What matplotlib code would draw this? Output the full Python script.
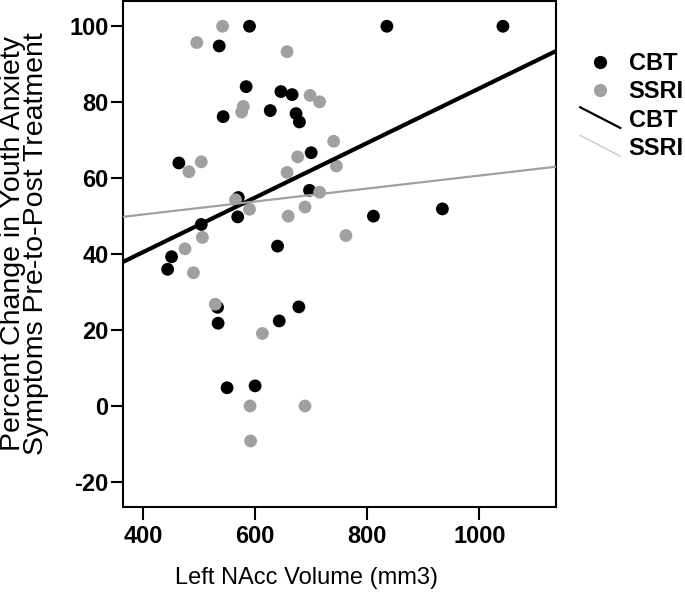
import numpy as np
import matplotlib
matplotlib.use("Agg")
import matplotlib.pyplot as plt
from matplotlib.lines import Line2D
from matplotlib.legend_handler import HandlerBase

plt.rcParams['font.family'] = ['Liberation Sans', 'DejaVu Sans']
plt.rcParams['axes.unicode_minus'] = False

# data (left NAcc volume, % change)
cbt_x = [590, 536, 584, 543, 627, 646, 666, 673, 679, 464, 570, 569, 504, 451,
         444, 640, 700, 697, 533, 534, 550, 678, 643, 600, 835, 1042, 934, 811]
cbt_y = [100, 94.8, 84.1, 76.2, 77.8, 82.8, 82.0, 77.0, 74.8, 64.0, 54.9, 49.8, 47.8, 39.3,
         36.0, 42.1, 66.7, 56.8, 26.0, 21.8, 4.8, 26.1, 22.4, 5.3, 100, 100, 51.9, 50.0]

ssri_x = [542, 496, 657, 579, 576, 698, 715, 740, 745, 676, 657, 715, 689, 659,
          762, 504, 482, 565, 590, 506, 475, 490, 529, 613, 591, 592, 689]
ssri_y = [100, 95.7, 93.3, 78.9, 77.4, 81.8, 80.1, 69.7, 63.2, 65.6, 61.5, 56.3, 52.4, 50.0,
          44.9, 64.3, 61.7, 54.3, 51.8, 44.4, 41.4, 35.1, 26.8, 19.1, 0.0, -9.2, 0.0]

# fit lines (intercept, slope) as shown in the figure
cbt_fit = [11.75, 0.0719]
ssri_fit = [43.6, 0.01708]

xlim = (363.7, 1137)
ylim = (-26.6, 106.6)
xticks = [400, 600, 800, 1000]
yticks = [-20, 0, 20, 40, 60, 80, 100]

grey = '#a0a0a0'


class DiagHandler(HandlerBase):
    # legend handle drawn as a short falling diagonal line
    def create_artists(self, legend, orig_handle, xdescent, ydescent, width, height, fontsize, trans):
        x0 = -xdescent
        x1 = width - xdescent
        y0 = height - ydescent + 2
        y1 = -ydescent - 1
        ln = Line2D([x0, x1], [y0, y1], color=orig_handle.get_color(),
                    linewidth=orig_handle.get_linewidth(), transform=trans)
        return [ln]


fig = plt.figure(figsize=(6.85, 5.93), dpi=100)
ax = fig.add_axes([0.179, 0.145, 0.633, 0.853])

ax.scatter(cbt_x, cbt_y, s=85, color='black', edgecolors='none', zorder=2)
ax.scatter(ssri_x, ssri_y, s=85, color=grey, edgecolors='none', zorder=3)

xs = np.array(xlim)
l1, = ax.plot(xs, cbt_fit[0] + cbt_fit[1] * xs, color='black', linewidth=3.0, zorder=4)
l2, = ax.plot(xs, ssri_fit[0] + ssri_fit[1] * xs, color=grey, linewidth=1.6, zorder=4)

ax.set_xlim(xlim)
ax.set_ylim(ylim)
ax.set_xticks(xticks)
ax.set_yticks(yticks)

for sp in ax.spines.values():
    sp.set_linewidth(1.5)

ax.tick_params(direction='out', length=9, width=1.5, labelsize=17)
ax.tick_params(axis='y', pad=1)
ax.tick_params(axis='x', pad=4)
for lab in ax.get_xticklabels() + ax.get_yticklabels():
    lab.set_fontweight('bold')

ax.set_xlabel('Left NAcc Volume (mm3)', fontsize=17)
ax.xaxis.set_label_coords(0.423, -0.118)
ax.set_ylabel('Percent Change in Youth Anxiety\nSymptoms Pre-to-Post Treatment',
              fontsize=20.5, linespacing=0.85)
ax.yaxis.set_label_coords(-0.17, 0.52)

h_cbt = Line2D([], [], marker='o', linestyle='none', color='black', markersize=9.5, markeredgewidth=0)
h_ssri = Line2D([], [], marker='o', linestyle='none', color=grey, markersize=9.5, markeredgewidth=0)
h_l1 = Line2D([], [], color='black', linewidth=1.6)
h_l2 = Line2D([], [], color='#c8c8c8', linewidth=1.0)

leg = fig.legend([h_cbt, h_ssri, h_l1, h_l2], ['CBT', 'SSRI', 'CBT', 'SSRI'],
                 loc='upper left', bbox_to_anchor=(0.847, 0.912), frameon=False,
                 handlelength=1.7, handletextpad=0.35, labelspacing=0.22, borderpad=0,
                 borderaxespad=0, prop={'size': 17, 'weight': 'bold'},
                 handler_map={h_l1: DiagHandler(), h_l2: DiagHandler()})

fig.savefig('out.png', dpi=100)
